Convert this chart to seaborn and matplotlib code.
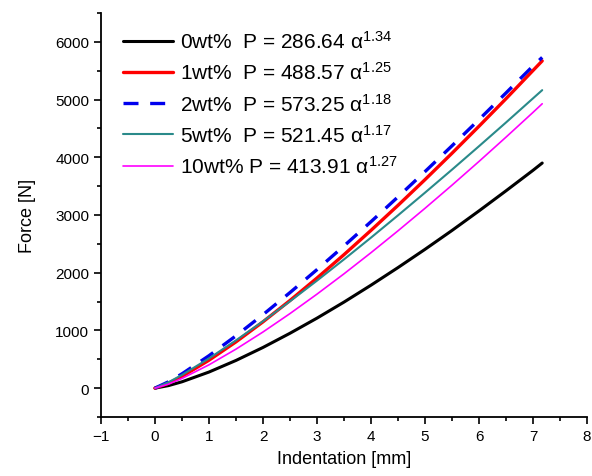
import matplotlib
matplotlib.use("Agg")
import matplotlib.pyplot as plt
import seaborn as sns
import pandas as pd
from matplotlib.ticker import MultipleLocator

# indentation [mm] and force [N]
indentation = [0, 0.25, 0.5, 1, 1.5, 2, 2.5, 3, 3.5, 4, 4.5, 5, 5.5, 6, 6.5, 7, 7.17]
force_0wt = [0, 44, 110, 279, 480, 705, 951, 1213, 1491, 1784, 2089, 2405, 2732, 3071, 3419, 3774, 3900]
force_1wt = [0, 85, 203, 484, 802, 1149, 1519, 1908, 2313, 2734, 3167, 3613, 4070, 4538, 5015, 5504, 5670]
force_2wt = [0, 110, 248, 562, 907, 1273, 1656, 2054, 2464, 2884, 3314, 3752, 4199, 4653, 5115, 5582, 5730]
force_5wt = [0, 102, 229, 515, 828, 1159, 1505, 1863, 2231, 2608, 2994, 3387, 3786, 4192, 4603, 5021, 5163]
force_10wt = [0, 69, 168, 404, 676, 973, 1292, 1629, 1981, 2347, 2726, 3116, 3517, 3928, 4349, 4778, 4927]

labels = [
    r"0wt%  P = 286.64 α$^{1.34}$",
    r"1wt%  P = 488.57 α$^{1.25}$",
    r"2wt%  P = 573.25 α$^{1.18}$",
    r"5wt%  P = 521.45 α$^{1.17}$",
    r"10wt% P = 413.91 α$^{1.27}$",
]
series = [force_0wt, force_1wt, force_2wt, force_5wt, force_10wt]
colors = ["black", "#ff0000", "#0000ee", "#2a8a8a", "#ff00ff"]
widths = [2.2, 2.4, 2.4, 1.5, 1.2]
styles = ["-", "-", (0, (4.5, 3.5)), "-", "-"]

sns.set_style("ticks")
plt.rcParams["font.family"] = ["Liberation Sans", "DejaVu Sans"]
plt.rcParams["mathtext.fontset"] = "custom"
plt.rcParams["mathtext.rm"] = "Liberation Sans"
plt.rcParams["mathtext.default"] = "regular"
plt.rcParams["text.color"] = "black"
plt.rcParams["axes.labelcolor"] = "black"
plt.rcParams["xtick.color"] = "black"
plt.rcParams["ytick.color"] = "black"
plt.rcParams["axes.edgecolor"] = "black"

fig = plt.figure(figsize=(5.92, 4.77), dpi=100)
ax = fig.add_axes([0.1706, 0.1237, 0.821, 0.847])

for lab, y, c, w, s in zip(labels, series, colors, widths, styles):
    df = pd.DataFrame({"x": indentation, "y": y})
    sns.lineplot(data=df, x="x", y="y", ax=ax, color=c, linewidth=w,
                 linestyle=s, label=lab)

ax.set_xlim(-1, 8)
ax.set_ylim(-500, 6500)
ax.xaxis.set_major_locator(MultipleLocator(1))
ax.xaxis.set_minor_locator(MultipleLocator(0.5))
ax.yaxis.set_major_locator(MultipleLocator(1000))
ax.yaxis.set_minor_locator(MultipleLocator(500))
ax.tick_params(which="major", direction="out", length=5, width=1.2, labelsize=11)
ax.tick_params(which="minor", direction="out", length=3, width=1.2)
for side in ["top", "right"]:
    ax.spines[side].set_visible(False)
for side in ["left", "bottom"]:
    ax.spines[side].set_linewidth(1.3)

ax.set_xlabel("Indentation [mm]", fontsize=13, labelpad=5)
ax.set_ylabel("Force [N]", fontsize=13, labelpad=14)

ax.legend(loc="upper left", bbox_to_anchor=(0.045, 0.958), frameon=False,
          borderaxespad=0, borderpad=0,
          fontsize=15, handlelength=2.4, handletextpad=0.33, labelspacing=0.45)

fig.savefig("out.png", dpi=100)
